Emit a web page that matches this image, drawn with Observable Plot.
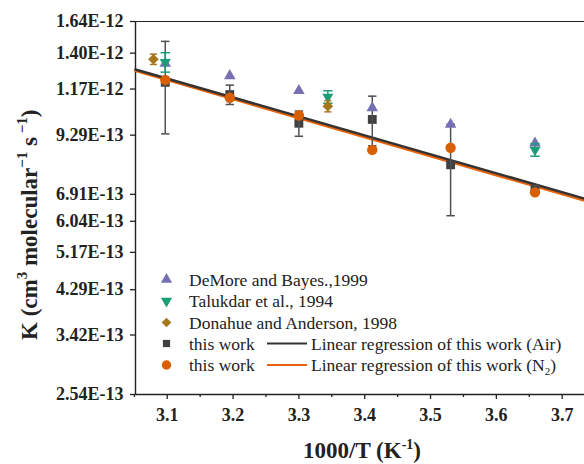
<!DOCTYPE html>
<html>
<head>
<meta charset="utf-8">
<script src="https://cdn.jsdelivr.net/npm/d3@7"></script>
<script src="https://cdn.jsdelivr.net/npm/@observablehq/plot@0.6"></script>
<style>
  html, body { margin: 0; padding: 0; background: #fff; }
  #wrap { position: relative; width: 584px; height: 464px; overflow: hidden; }
  #wrap svg { position: absolute; left: 0; top: 0; }
</style>
</head>
<body>
<div id="wrap"></div>
<script>
// ---- data (K in units of 1e-12 cm3 molecular-1 s-1) ----
const workX = [3.097, 3.195, 3.300, 3.4115, 3.5305, 3.6587];   // 1000/T, this work
const airK  = [1.210, 1.138, 0.986, 1.005, 0.801, 0.710];
const airErr = [0.275, 0.055, 0.062, 0.124, 0.180, 0.012];
const n2K   = [1.225, 1.120, 1.025, 0.863, 0.872, 0.698];

const demoreX = [3.097, 3.195, 3.300, 3.4115, 3.5305, 3.6587];
const demoreK = [1.330, 1.250, 1.161, 1.065, 0.980, 0.893];

const talukdarX = [3.097, 3.344, 3.6587];
const talukdarK = [1.338, 1.125, 0.863];
const talukdarErr = [0.065, 0.035, 0.027];

const donahueX = [3.079, 3.344];
const donahueK = [1.358, 1.074];
const donahueErr = [0.035, 0.030];

const xMajor = [3.1, 3.2, 3.3, 3.4, 3.5, 3.6, 3.7];
const xMinor = [3.05, 3.15, 3.25, 3.35, 3.45, 3.55, 3.65];
const yTicks = [0.254, 0.342, 0.429, 0.517, 0.604, 0.691, 0.929, 1.17, 1.40, 1.64];
const yLabels = ["2.54E-13", "3.42E-13", "4.29E-13", "5.17E-13", "6.04E-13", "6.91E-13", "9.29E-13", "1.17E-12", "1.40E-12", "1.64E-12"];

const xDomain = [3.0518, 3.7339];
const yDomain = [0.254, 1.64];

const legendNames = ["DeMore and Bayes.,1999", "Talukdar et al., 1994", "Donahue and Anderson, 1998", "this work", "this work"];
const lineNames = ["Linear regression of this work (Air)", "Linear regression of this work (N"];

const cPurple = "#7570B3", cTeal = "#1B9E77", cBrown = "#A6761D", cGrey = "#404040", cOrange = "#D95F02";

// ---- tables ----
const rows = (xs, ks, errs) => xs.map((x, i) => ({x, k: ks[i], e: errs ? errs[i] : 0}));
const air = rows(workX, airK, airErr);
const n2 = rows(workX, n2K);
const demore = rows(demoreX, demoreK);
const taluk = rows(talukdarX, talukdarK, talukdarErr);
const donah = rows(donahueX, donahueK, donahueErr);

// Arrhenius fit: linear regression of ln K on 1000/T
function fit(xs, ks) {
  const ys = ks.map(Math.log);
  const mx = d3.mean(xs), my = d3.mean(ys);
  const b = d3.sum(xs, (x, i) => (x - mx) * (ys[i] - my)) / d3.sum(xs, x => (x - mx) ** 2);
  const a = my - b * mx;
  return xDomain.map(x => ({x, k: Math.exp(a + b * x)}));
}
const airFit = fit(workX, airK);
const n2Fit = fit(workX, n2K);

// custom symbols
const triDown = {
  draw(ctx, size) {
    const y = -Math.sqrt(size / (Math.sqrt(3) * 3));
    ctx.moveTo(0, -y * 2);
    ctx.lineTo(-Math.sqrt(3) * y, y);
    ctx.lineTo(Math.sqrt(3) * y, y);
    ctx.closePath();
  }
};
const cap = {
  draw(ctx, size) {
    const r = Math.sqrt(size / Math.PI);
    ctx.moveTo(-r, 0);
    ctx.lineTo(r, 0);
  }
};

function errMarks(data, color, capR, sw) {
  return [
    Plot.ruleX(data, {x: "x", y1: d => d.k - d.e, y2: d => d.k + d.e, stroke: color, strokeWidth: sw}),
    Plot.dot(data, {x: "x", y: d => d.k + d.e, symbol: cap, r: capR, fill: "none", stroke: color, strokeWidth: sw}),
    Plot.dot(data, {x: "x", y: d => d.k - d.e, symbol: cap, r: capR, fill: "none", stroke: color, strokeWidth: sw})
  ];
}

const SERIF = "'Liberation Serif', 'Times New Roman', Times, serif";

const chart = Plot.plot({
  width: 584,
  height: 464,
  marginLeft: 135,
  marginRight: 0,
  marginTop: 21,
  marginBottom: 70,
  style: {
    fontFamily: SERIF,
    fontSize: "18px",
    fontWeight: "bold",
    color: "#222",
    background: "transparent",
    overflow: "visible"
  },
  x: {domain: xDomain},
  y: {type: "log", domain: yDomain},
  marks: [
    Plot.axisX({ticks: xMajor, tickFormat: d3.format(".1f"), tickSize: 5, tickPadding: 9, label: null, strokeWidth: 1.3}),
    Plot.axisX({ticks: xMinor, tickFormat: () => "", tickSize: 3, label: null, strokeWidth: 1.3}),
    Plot.axisY({ticks: yTicks, tickFormat: d => yLabels[yTicks.indexOf(d)], tickSize: 5, tickPadding: 7, label: null, strokeWidth: 1.3}),
    Plot.ruleY([yDomain[0]], {stroke: "#222", strokeWidth: 1.4}),
    Plot.ruleY([yDomain[1]], {stroke: "#222", strokeWidth: 1.2}),
    Plot.ruleX([xDomain[0]], {stroke: "#222", strokeWidth: 1.4}),
    Plot.line(n2Fit, {x: "x", y: "k", stroke: "#E8630C", strokeWidth: 2.5}),
    Plot.line(airFit, {x: "x", y: "k", stroke: "#333333", strokeWidth: 2.5}),
    Plot.dot(air, {x: "x", y: "k", symbol: "square", r: 5.0, fill: cGrey}),
    ...errMarks(air, "#505050", 4.2, 1.5),
    Plot.dot(n2, {x: "x", y: "k", symbol: "circle", r: 5.2, fill: cOrange}),
    Plot.dot(demore, {x: "x", y: "k", symbol: "triangle", r: 4.3, fill: cPurple}),
    ...errMarks(taluk, cTeal, 4.7, 1.5),
    Plot.dot(taluk, {x: "x", y: "k", symbol: triDown, r: 4.1, fill: cTeal}),
    ...errMarks(donah, cBrown, 3.5, 1.5),
    Plot.dot(donah, {x: "x", y: "k", symbol: "diamond2", r: 4.8, fill: cBrown})
  ]
});

const wrap = document.getElementById("wrap");
wrap.appendChild(chart);

// ---- overlay: axis titles and legend ----
const ov = d3.select(wrap).append("svg")
  .attr("width", 584).attr("height", 464)
  .attr("font-family", SERIF)
  .style("pointer-events", "none");

// x title
const xt = ov.append("text").attr("x", 362).attr("y", 458).attr("text-anchor", "middle")
  .attr("font-size", 23).attr("font-weight", "bold").attr("fill", "#222");
xt.append("tspan").text("1000/T (K");
xt.append("tspan").attr("font-size", 14).attr("dy", -9).text("-1");
xt.append("tspan").attr("dy", 9).text(")");

// y title (reads bottom to top, starting at the "K")
const yt = ov.append("text").attr("transform", "translate(37,340) rotate(-90)")
  .attr("text-anchor", "start").attr("font-size", 23).attr("font-weight", "bold").attr("fill", "#222");
yt.append("tspan").text("K (cm");
yt.append("tspan").attr("font-size", 15).attr("dy", -10).text("3");
yt.append("tspan").attr("dy", 10).text(" molecular");
yt.append("tspan").attr("font-size", 15).attr("dy", -10).text("\u22121");
yt.append("tspan").attr("dy", 10).text(" s");
yt.append("tspan").attr("font-size", 15).attr("dy", -10).text(" \u22121");
yt.append("tspan").attr("dy", 10).text(")");

// legend
const legSym = [
  {sym: d3.symbolTriangle, size: 55, color: cPurple},
  {sym: triDown, size: 55, color: cTeal},
  {sym: d3.symbolDiamond2, size: 60, color: cBrown},
  {sym: d3.symbolSquare, size: 52, color: cGrey},
  {sym: d3.symbolCircle, size: 70, color: cOrange}
];
const rowY = [279.5, 301, 322.5, 343.5, 365];
legSym.forEach((s, i) => {
  ov.append("path").attr("d", d3.symbol(s.sym, s.size)())
    .attr("transform", `translate(166.5,${rowY[i]})`).attr("fill", s.color);
  ov.append("text").attr("x", 189).attr("y", rowY[i] + 6).attr("font-size", 17.5).attr("fill", "#222")
    .text(legendNames[i]);
});
[[cGrey, "#333333"], [cOrange, "#E8630C"]].forEach(([, lc], j) => {
  const y = rowY[3 + j];
  ov.append("line").attr("x1", 267).attr("x2", 307).attr("y1", y).attr("y2", y)
    .attr("stroke", lc).attr("stroke-width", 2.2);
  const t = ov.append("text").attr("x", 311).attr("y", y + 6).attr("font-size", 17.5).attr("fill", "#222");
  t.append("tspan").text(lineNames[j]);
  if (j === 1) {
    t.append("tspan").attr("font-size", 11).attr("dy", 4).text("2");
    t.append("tspan").attr("dy", -4).text(")");
  }
});
</script>
</body>
</html>
